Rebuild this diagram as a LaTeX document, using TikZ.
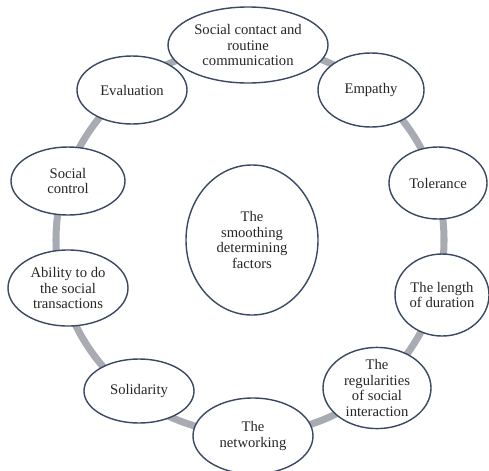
\documentclass[tikz,border=0pt]{standalone}
\usepackage{fontspec}
\setmainfont{Liberation Serif}
\usetikzlibrary{shapes.geometric}

\definecolor{ringgray}{HTML}{A8ABB1}
\definecolor{rimblue}{HTML}{3A4862}

\begin{document}
\begin{tikzpicture}[
		x=0.03cm,y=-0.03cm,
		every node/.style={font=\fontsize{12.5}{13.4}\selectfont, text=black!85},
		factor/.style={ellipse, draw=rimblue, line width=1.2pt, fill=white,
			align=center, inner sep=0pt}
		]
		
		\useasboundingbox (0,0) rectangle (489,470);
		
		% =========================
		% ring behind the factors
		% =========================
		\draw[ringgray, line width=6pt] (250,240) circle (194);
		
		% =========================
		% centre
		% =========================
		\node[factor, minimum width=3.96cm, minimum height=4.5cm] (core) at (252,240)
		{The\\ smoothing\\ determining\\ factors};
		
		% =========================
		% factors round the ring
		% =========================
		\node[factor, minimum width=4.8cm, minimum height=2.28cm] (contact) at (248,45)
		{Social contact and\\ routine\\ communication};
		\node[factor, minimum width=3.18cm, minimum height=2.22cm] (empathy) at (371,90) {Empathy};
		\node[factor, minimum width=2.94cm, minimum height=2.16cm] (tolerance) at (438,183) {Tolerance};
		\node[factor, minimum width=2.82cm, minimum height=2.46cm] (duration) at (442,295)
		{The length\\ of duration};
		\node[factor, minimum width=3.24cm, minimum height=2.34cm] (regular) at (377,388)
		{The\\ regularities\\ of social\\ interaction};
		\node[factor, minimum width=3.6cm, minimum height=2.28cm] (network) at (253,436)
		{The\\ networking};
		\node[factor, minimum width=3.3cm, minimum height=1.92cm] (solid) at (139,391) {Solidarity};
		\node[factor, minimum width=3.6cm, minimum height=2.28cm] (ability) at (68,288)
		{Ability to do\\ the social\\ transactions};
		\node[factor, minimum width=3.42cm, minimum height=2.04cm] (control) at (68,181)
		{Social\\ control};
		\node[factor, minimum width=3.3cm, minimum height=2.04cm] (evaluation) at (132,90) {Evaluation};
		
	\end{tikzpicture}
\end{document}
